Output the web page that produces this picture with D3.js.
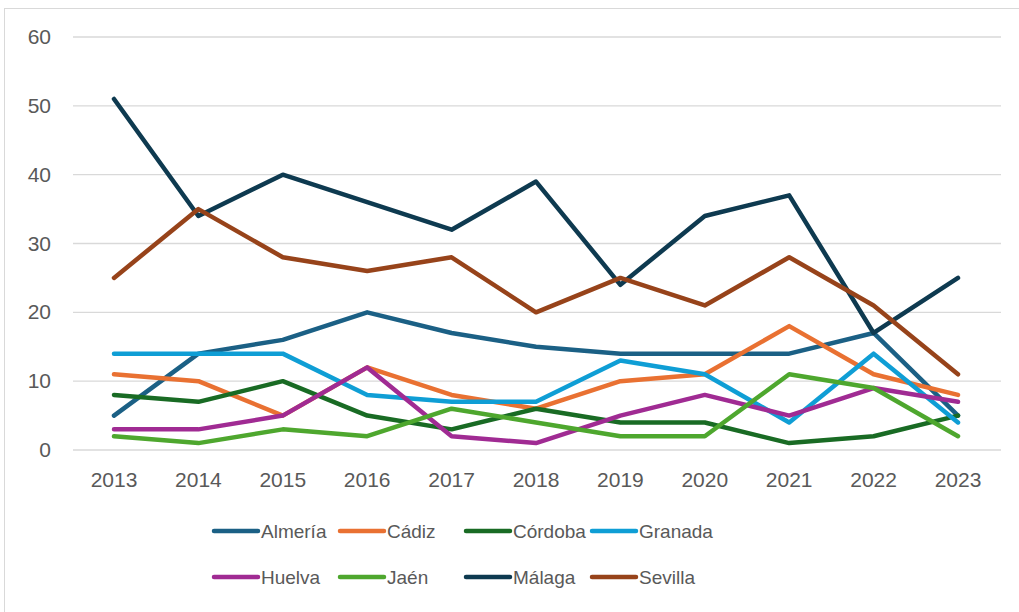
<!DOCTYPE html>
<html>
<head>
<meta charset="utf-8">
<script src="https://cdnjs.cloudflare.com/ajax/libs/d3/7.8.5/d3.min.js"></script>
<style>
  body { margin: 0; background: #fff; }
  text { font-family: "Liberation Sans", Arial, sans-serif; fill: #595959; }
</style>
</head>
<body>
<div id="chart"></div>
<script>
// years on the x axis
var years = [2013, 2014, 2015, 2016, 2017, 2018, 2019, 2020, 2021, 2022, 2023];

// one array per province
var almeria = [5, 14, 16, 20, 17, 15, 14, 14, 14, 17, 5];
var cadiz   = [11, 10, 5, 12, 8, 6, 10, 11, 18, 11, 8];
var cordoba = [8, 7, 10, 5, 3, 6, 4, 4, 1, 2, 5];
var granada = [14, 14, 14, 8, 7, 7, 13, 11, 4, 14, 4];
var huelva  = [3, 3, 5, 12, 2, 1, 5, 8, 5, 9, 7];
var jaen    = [2, 1, 3, 2, 6, 4, 2, 2, 11, 9, 2];
var malaga  = [51, 34, 40, 36, 32, 39, 24, 34, 37, 17, 25];
var sevilla = [25, 35, 28, 26, 28, 20, 25, 21, 28, 21, 11];

var names  = ["Almería", "Cádiz", "Córdoba", "Granada", "Huelva", "Jaén", "Málaga", "Sevilla"];
var values = [almeria, cadiz, cordoba, granada, huelva, jaen, malaga, sevilla];
var colors = ["#1B6085", "#E97132", "#196B24", "#0F9ED5", "#A02B93", "#4EA72E", "#0E3A50", "#97431A"];
var yTicks = [0, 10, 20, 30, 40, 50, 60];

var width = 1019, height = 612;

var svg = d3.select("#chart").append("svg")
  .attr("width", width)
  .attr("height", height);

// outer frame (runs off the right and bottom edges)
svg.append("rect")
  .attr("x", 4.5).attr("y", 8.5)
  .attr("width", 1030).attr("height", 620)
  .attr("fill", "none")
  .attr("stroke", "#d9d9d9");

var x = d3.scalePoint()
  .domain(years)
  .range([114, 958]);

var y = d3.scaleLinear()
  .domain([0, 60])
  .range([450, 37]);

// gridlines
svg.append("g").selectAll("line")
  .data(yTicks)
  .enter().append("line")
  .attr("x1", 73).attr("x2", 1001)
  .attr("y1", function(d){ return y(d); })
  .attr("y2", function(d){ return y(d); })
  .attr("stroke", "#d9d9d9")
  .attr("stroke-width", 1.3);

// y labels
svg.append("g").selectAll("text")
  .data(yTicks)
  .enter().append("text")
  .attr("x", 51)
  .attr("y", function(d){ return y(d) + 7; })
  .attr("text-anchor", "end")
  .attr("font-size", 21)
  .text(function(d){ return d; });

// x labels
svg.append("g").selectAll("text")
  .data(years)
  .enter().append("text")
  .attr("x", function(d){ return x(d); })
  .attr("y", 487)
  .attr("text-anchor", "middle")
  .attr("font-size", 21)
  .text(function(d){ return d; });

var line = d3.line()
  .x(function(d, i){ return x(years[i]); })
  .y(function(d){ return y(d); });

svg.append("g").selectAll("path")
  .data(values)
  .enter().append("path")
  .attr("d", line)
  .attr("fill", "none")
  .attr("stroke", function(d, i){ return colors[i]; })
  .attr("stroke-width", 4.5)
  .attr("stroke-linejoin", "round")
  .attr("stroke-linecap", "round");

// legend, 4 per row
var legendX = [214, 340, 466, 592];
var legendY = [531, 577];

var items = svg.append("g").selectAll("g")
  .data(names)
  .enter().append("g")
  .attr("transform", function(d, i){
    return "translate(" + legendX[i % 4] + "," + legendY[Math.floor(i / 4)] + ")";
  });

items.append("line")
  .attr("x1", 0).attr("x2", 44)
  .attr("stroke", function(d, i){ return colors[i]; })
  .attr("stroke-width", 4.5)
  .attr("stroke-linecap", "round");

items.append("text")
  .attr("x", 47)
  .attr("y", 7)
  .attr("font-size", 19)
  .text(function(d){ return d; });
</script>
</body>
</html>
